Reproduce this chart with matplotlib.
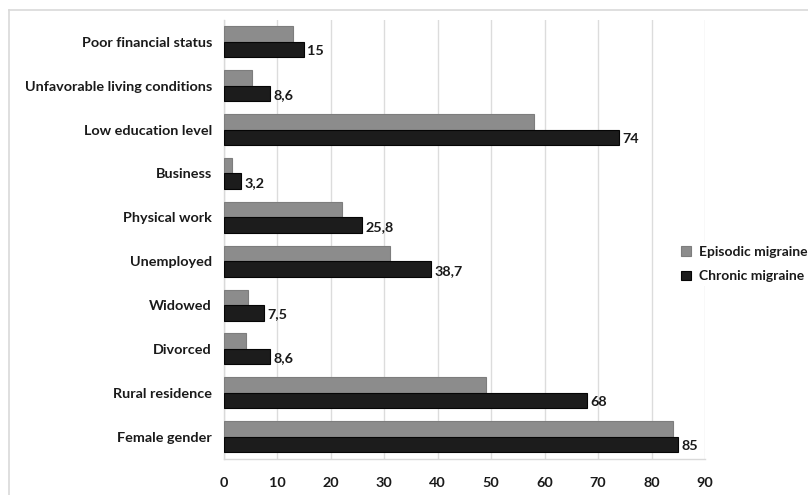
import matplotlib
matplotlib.use("Agg")
import matplotlib.pyplot as plt
from matplotlib.lines import Line2D
import numpy as np

# data (top to bottom)
categories = ["Poor financial status", "Unfavorable living conditions",
              "Low education level", "Business", "Physical work",
              "Unemployed", "Widowed", "Divorced", "Rural residence",
              "Female gender"]
episodic = [13, 5.3, 58, 1.5, 22, 31, 4.4, 4.2, 49, 84]
chronic = [15, 8.6, 74, 3.2, 25.8, 38.7, 7.5, 8.6, 68, 85]
xticks = [0, 10, 20, 30, 40, 50, 60, 70, 80, 90]

plt.rcParams['font.family'] = ['Lato', 'DejaVu Sans']
txt = '#1a1a1a'
fs = 10.4

fig = plt.figure(figsize=(8.08, 4.95), dpi=100)
W, H = 808, 495
ax = fig.add_axes([224 / W, 1 - 458.5 / H, (705 - 224) / W, (458.5 - 20) / H])

y = np.arange(len(categories))
h = 0.354
ax.barh(y - h / 2, episodic, height=h, color='#8c8c8c', edgecolor='#7d7d7d',
        linewidth=0.8, label='Episodic migraine', zorder=3)
ax.barh(y + h / 2, chronic, height=h, color='#1c1c1c', edgecolor='#050505',
        linewidth=0.8, label='Chronic migraine', zorder=3)

# value labels on chronic bars only
for yi, v in zip(y, chronic):
    ax.text(v + 0.6, yi + h / 2 + 0.04, f"{v:g}".replace('.', ','),
            va='center', ha='left', fontsize=fs, fontweight='bold', color=txt)

ax.set_xlim(0, 90)
ax.set_ylim(len(categories) - 0.5, -0.5)
ax.set_xticks(xticks)
ax.set_yticks(y)
ax.set_yticklabels(categories)
ax.tick_params(axis='both', length=0, labelsize=fs, labelcolor=txt)
ax.tick_params(axis='x', pad=13.5)
ax.tick_params(axis='y', pad=8.6)
for lab in ax.get_xticklabels() + ax.get_yticklabels():
    lab.set_fontweight('bold')

ax.grid(axis='x', color='#dcdcdc', linewidth=1, zorder=0)
ax.set_axisbelow(True)
for s in ['top', 'right']:
    ax.spines[s].set_visible(False)
for s in ['left', 'bottom']:
    ax.spines[s].set_color('#d9d9d9')
    ax.spines[s].set_linewidth(1)

# legend kept slightly smaller so it stays inside the figure
leg = ax.legend(loc='center left', bbox_to_anchor=(670 / W, 1 - 264 / H),
                bbox_transform=fig.transFigure, frameon=True,
                handlelength=0.7, handleheight=0.7, handletextpad=0.6,
                labelspacing=0.9, borderpad=0.3, prop={'size': 10, 'weight': 'bold'})
leg.get_frame().set_edgecolor('none')
leg.get_frame().set_facecolor('white')
leg.get_frame().set_alpha(1)
for t in leg.get_texts():
    t.set_color(txt)

# outer chart border (left and top edges visible)
fig.add_artist(Line2D([9 / W, 9 / W], [0, 1 - 10 / H], transform=fig.transFigure,
                      color='#d9d9d9', linewidth=1.2))
fig.add_artist(Line2D([9 / W, 1], [1 - 10 / H, 1 - 10 / H], transform=fig.transFigure,
                      color='#d9d9d9', linewidth=1.2))

fig.savefig('out.png', dpi=100)
